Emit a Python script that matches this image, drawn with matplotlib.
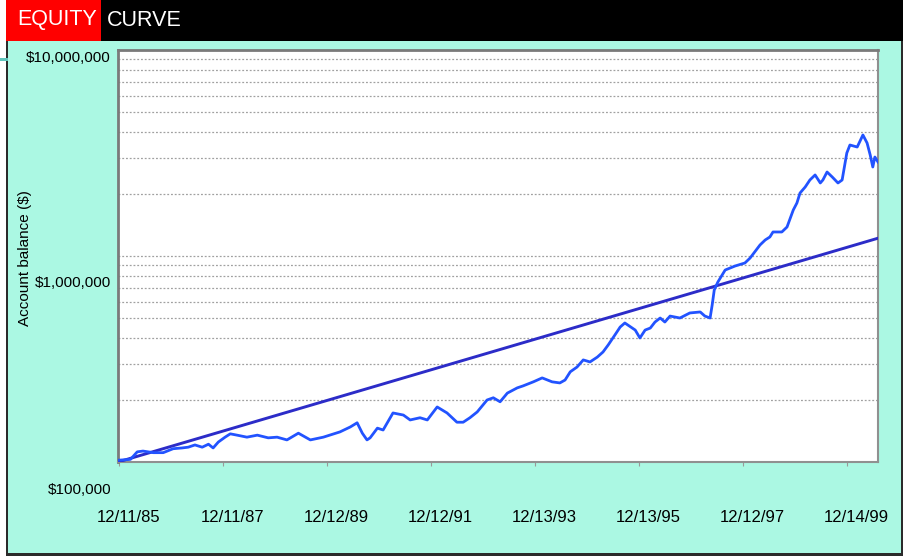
import numpy as np
import pandas as pd
import matplotlib
matplotlib.use("Agg")
import matplotlib.pyplot as plt
from matplotlib import font_manager
from matplotlib.patches import Rectangle
from matplotlib.ticker import LogLocator, NullFormatter, FixedLocator

# a narrow face for the axis text if one is installed
installed = {f.name for f in font_manager.fontManager.ttflist}
narrow = [n for n in ['Liberation Sans Narrow', 'DejaVu Sans Condensed'] if n in installed]
if narrow:
    label_font, date_size, money_size = narrow[0], 13, 13
else:
    label_font, date_size, money_size = 'Liberation Sans', 12, 11
plt.rcParams['font.family'] = [label_font, 'DejaVu Sans']

# equity curve: decimal year, account balance in $ thousands
years = [1985.92, 1986.16, 1986.29, 1986.40, 1986.60, 1986.79, 1986.98, 1987.15,
         1987.27, 1987.40, 1987.54, 1987.66, 1987.75, 1987.85, 1987.98, 1988.08,
         1988.21, 1988.40, 1988.60, 1988.81, 1988.98, 1989.17, 1989.39, 1989.62,
         1989.87, 1990.19, 1990.39, 1990.52, 1990.62, 1990.71, 1990.77, 1990.91,
         1991.02, 1991.21, 1991.41, 1991.54, 1991.73, 1991.87, 1992.06, 1992.25,
         1992.44, 1992.56, 1992.69, 1992.83, 1993.02, 1993.14, 1993.27, 1993.41,
         1993.60, 1993.71, 1993.91, 1994.08, 1994.27, 1994.42, 1994.52, 1994.62,
         1994.75, 1994.87, 1995.00, 1995.14, 1995.25, 1995.35, 1995.48, 1995.58,
         1995.67, 1995.87, 1995.96, 1996.06, 1996.16, 1996.25, 1996.35, 1996.44,
         1996.54, 1996.73, 1996.92, 1997.12, 1997.21, 1997.31, 1997.35, 1997.39,
         1997.46, 1997.60, 1997.79, 1997.98, 1998.08, 1998.27, 1998.37, 1998.46,
         1998.52, 1998.69, 1998.79, 1998.91, 1998.98, 1999.04, 1999.14, 1999.23,
         1999.33, 1999.43, 1999.48, 1999.56, 1999.66, 1999.77, 1999.85, 1999.94,
         2000.00, 2000.14, 2000.25, 2000.33, 2000.39, 2000.44, 2000.48, 2000.54]
equity_k = [102, 103, 112, 113, 111, 111, 116, 117,
            118, 121, 118, 122, 117, 125, 132, 137,
            135, 132, 135, 131, 132, 128, 138, 128,
            132, 140, 148, 155, 138, 128, 131, 146,
            143, 173, 169, 160, 164, 160, 185, 173,
            156, 156, 164, 175, 200, 205, 196, 216,
            229, 234, 245, 256, 245, 242, 250, 274,
            289, 313, 306, 323, 342, 370, 414, 452,
            473, 437, 400, 437, 447, 478, 500, 478,
            511, 500, 529, 535, 511, 500, 578, 684,
            748, 855, 894, 925, 978, 1131, 1196, 1237,
            1308, 1308, 1383, 1672, 1808, 2022, 2163, 2339,
            2474, 2262, 2339, 2557, 2418, 2262, 2339, 3162,
            3458, 3381, 3868, 3536, 3093, 2704, 3024, 2860]

# straight (log) trend line
trend_years = [1985.92, 2000.54]
trend_values = [100_000, 1_220_000]

tick_dates = ['12/11/85', '12/11/87', '12/12/89', '12/12/91',
              '12/13/93', '12/13/95', '12/12/97', '12/14/99']
y_ticks = [1e5, 1e6, 1e7]
y_labels = ['$100,000', '$1,000,000', '$10,000,000']
y_label_drop = [28, 27, 8]   # px below each gridline


def decimal_year(s):
    ts = pd.to_datetime(s, format='%m/%d/%y')
    return ts.year + (ts.dayofyear - 1) / 365.25


W, H = 904, 556
fig = plt.figure(figsize=(W / 100, H / 100), dpi=100)
fig.patch.set_facecolor('white')


def px_rect(x0, y0, x1, y1, **kw):
    fig.patches.append(Rectangle((x0 / W, 1 - y1 / H), (x1 - x0) / W, (y1 - y0) / H,
                                 transform=fig.transFigure, zorder=0, **kw))


# frame and header
px_rect(6, 41, 904, 556, facecolor='#2b2b2b', edgecolor='none')
px_rect(8, 41, 901, 553, facecolor='#abf8e3', edgecolor='none')
px_rect(6, 0, 904, 41, facecolor='black', edgecolor='none')
px_rect(6, 0, 101, 41, facecolor='#ff0000', edgecolor='none')
px_rect(0, 58, 8, 61, facecolor='#5fc4bb', edgecolor='none')
fig.text(17 / W, 1 - 20 / H, 'EQUITY', color='white', fontsize=15.5,
         family=['Liberation Sans', 'DejaVu Sans'], ha='left', va='center')
fig.text(107 / W, 1 - 20 / H, 'CURVE', color='white', fontsize=15.5,
         family=['Liberation Sans', 'DejaVu Sans'], ha='left', va='center')

ax = fig.add_axes([118 / W, 1 - 462 / H, 760 / W, 412 / H])
ax.set_zorder(2)
ax.set_facecolor('white')

ax.plot(trend_years, trend_values, color='#2c2cc8', lw=2.1, zorder=3)
ax.plot(years, np.array(equity_k) * 1000, color='#2253ff', lw=2.0, zorder=4)

ax.set_yscale('log')
ax.set_ylim(1e5, 1e7)
ax.set_xlim(1985.92, 2000.54)

# gridlines on every 1-9 step of each decade
ax.yaxis.set_major_locator(FixedLocator(y_ticks))
ax.yaxis.set_minor_locator(LogLocator(base=10, subs=np.arange(2, 10)))
ax.yaxis.set_major_formatter(NullFormatter())
ax.yaxis.set_minor_formatter(NullFormatter())
ax.yaxis.grid(True, which='both', color='#a0a0a0', lw=0.9, ls=(0, (1.5, 1.5)))
ax.tick_params(axis='y', which='both', length=0)

# dollar labels sit a little below their gridlines
for v, lab, dy in zip(y_ticks, y_labels, y_label_drop):
    ax.annotate(lab, xy=(0, v), xycoords=('axes fraction', 'data'),
                xytext=(-7, -dy), textcoords='offset pixels',
                ha='right', va='center', fontsize=money_size, annotation_clip=False)

# date ticks below the axis, labels set well under them
tick_x = [decimal_year(d) for d in tick_dates]
ax.set_xticks(tick_x)
ax.xaxis.set_major_formatter(NullFormatter())
ax.tick_params(axis='x', length=3, color='#999999')
for x, lab in zip(tick_x, tick_dates):
    ax.annotate(lab, xy=(x, 0), xycoords=('data', 'axes fraction'),
                xytext=(9, -55), textcoords='offset pixels',
                ha='center', va='center', fontsize=date_size, annotation_clip=False)

for side in ['left', 'top']:
    ax.spines[side].set_color('#7a7a7a')
    ax.spines[side].set_linewidth(2)
for side in ['right', 'bottom']:
    ax.spines[side].set_color('#909090')
    ax.spines[side].set_linewidth(1.5)

fig.text(25 / W, 1 - 258 / H, 'Account balance ($)', rotation=90, fontsize=money_size,
         ha='center', va='center')

fig.savefig('out.png', dpi=100)
